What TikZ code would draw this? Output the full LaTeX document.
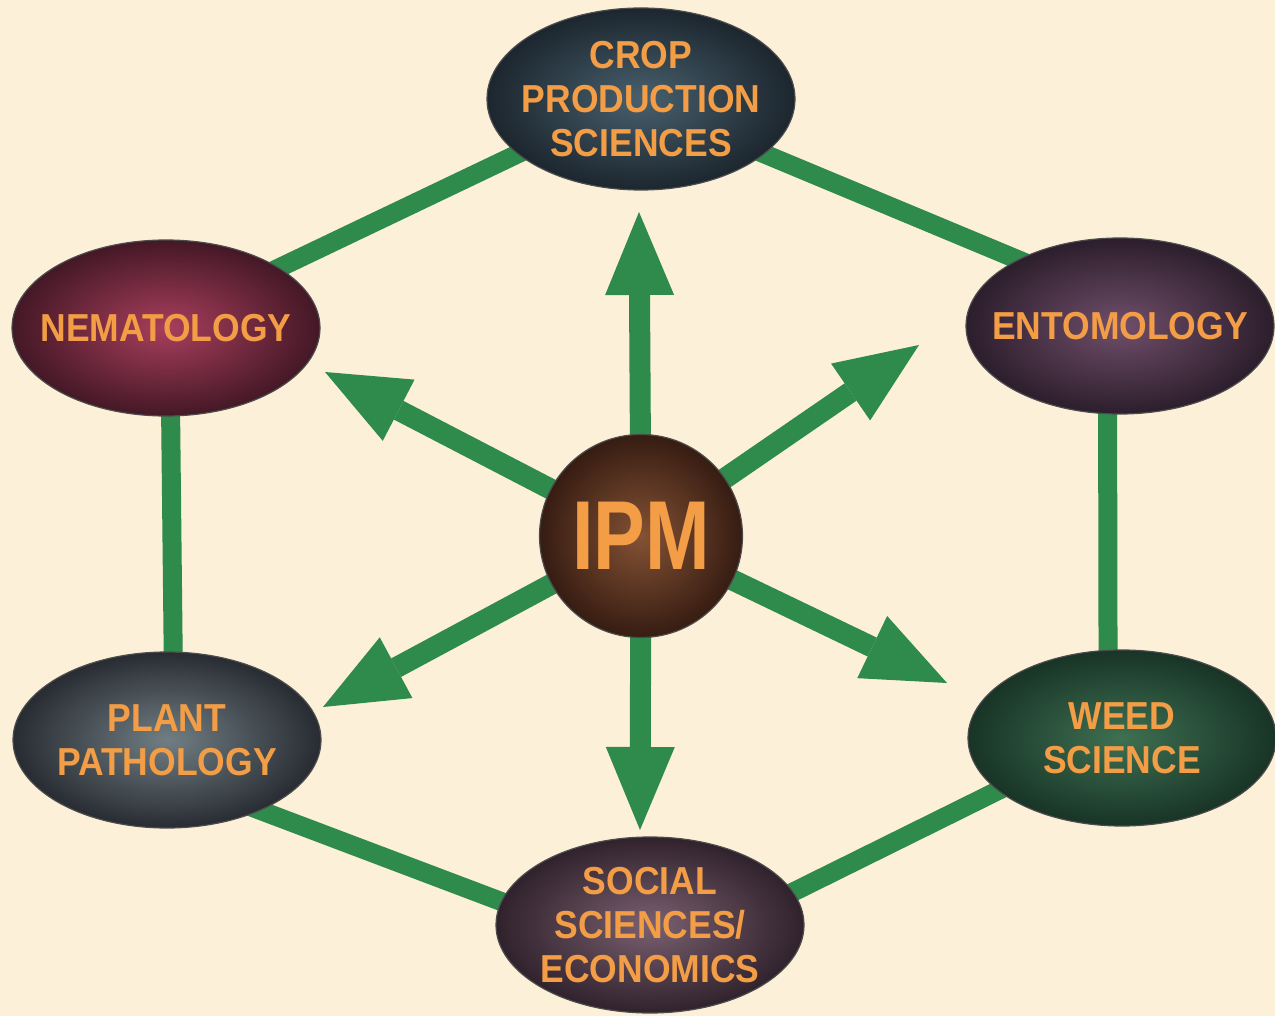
\documentclass[tikz,border=0pt]{standalone}
\usepackage{fontspec}
\setmainfont{Liberation Sans}
\newfontfamily\fieldfont[FakeStretch=0.91]{Liberation Sans}
\newfontfamily\ipmfont[FakeStretch=0.79]{Liberation Sans}
\usetikzlibrary{arrows.meta}
\usetikzlibrary{shapes.geometric}
\definecolor{paper}{RGB}{252,240,217}
\definecolor{leaf}{RGB}{46,139,76}
\definecolor{ipmorange}{RGB}{243,158,70}
\definecolor{cropin}{RGB}{72,96,110}
\definecolor{cropout}{RGB}{28,38,46}
\definecolor{nemin}{RGB}{168,62,92}
\definecolor{nemout}{RGB}{68,24,38}
\definecolor{entin}{RGB}{112,78,106}
\definecolor{entout}{RGB}{44,30,44}
\definecolor{plantin}{RGB}{112,126,132}
\definecolor{plantout}{RGB}{40,44,50}
\definecolor{weedin}{RGB}{62,112,82}
\definecolor{weedout}{RGB}{24,52,38}
\definecolor{socialin}{RGB}{122,96,112}
\definecolor{socialout}{RGB}{48,34,44}
\definecolor{ipmin}{RGB}{132,82,52}
\definecolor{ipmout}{RGB}{54,28,18}
\pgfdeclarelayer{bglayer}
\pgfdeclarelayer{links}
\pgfsetlayers{bglayer,links,main}
\tikzstyle{field} = [ellipse, shade, shading=radial, minimum width=154pt, minimum height=88pt, inner sep=-30pt, align=center, text=ipmorange, draw=black!70, line width=0.6pt, font=\fieldfont\fontsize{19.5}{22}\selectfont\bfseries]
\tikzstyle{hub} = [circle, shade, shading=radial, minimum size=101.5pt, inner sep=0pt, text=ipmorange, draw=black!70, line width=0.6pt, font=\ipmfont\fontsize{49}{49}\selectfont\bfseries]
\tikzstyle{link} = [draw=leaf, line width=9.5pt, shorten <=-8pt, shorten >=-8pt]
\tikzstyle{spoke} = [draw=leaf, line width=10.5pt, -{Triangle[length=41.5pt,width=34.5pt,line width=0pt]}, shorten <=-8pt]

\begin{document}
\begin{tikzpicture}[x=0.5pt,y=-0.5pt]
\useasboundingbox (0,0) rectangle (1275,1016);
\begin{pgfonlayer}{bglayer}
\fill [paper] (0,0) rectangle (1275,1016);
\end{pgfonlayer}
\node (crop) [field, minimum height=91pt, inner color=cropin, outer color=cropout] at (641,99) {CROP\\PRODUCTION\\SCIENCES};
\node (nem) [field, inner color=nemin, outer color=nemout] at (166,328) {NEMATOLOGY};
\node (ent) [field, inner color=entin, outer color=entout] at (1120,326) {ENTOMOLOGY};
\node (plant) [field, inner color=plantin, outer color=plantout] at (167,740) {PLANT\\PATHOLOGY};
\node (weed) [field, inner color=weedin, outer color=weedout] at (1122,738) {WEED\\SCIENCE};
\node (social) [field, inner color=socialin, outer color=socialout] at (650,925) {SOCIAL\\SCIENCES/\\ECONOMICS};
\node (ipm) [hub, inner color=ipmin, outer color=ipmout] at (641,536) {IPM};
\coordinate (tipup) at (639,212);
\coordinate (tipul) at (325,372);
\coordinate (tipur) at (919,345);
\coordinate (tipdl) at (323,707);
\coordinate (tipdr) at (947,683);
\coordinate (tipdn) at (640,830);
\begin{pgfonlayer}{links}
\draw [link] (crop.204) -- (nem.28);
\draw [link] (crop.-24) -- (ent.147);
\draw [link] (nem.-87) -- (plant.86);
\draw [link] (ent.-98) -- (weed.99);
\draw [link] (plant.-37) -- (social.171);
\draw [link] (weed.203) -- (social.13);
\foreach \tip in {tipup,tipul,tipur,tipdl,tipdr,tipdn}
  \draw [spoke] (ipm) -- (\tip);
\end{pgfonlayer}
\end{tikzpicture}
\end{document}
